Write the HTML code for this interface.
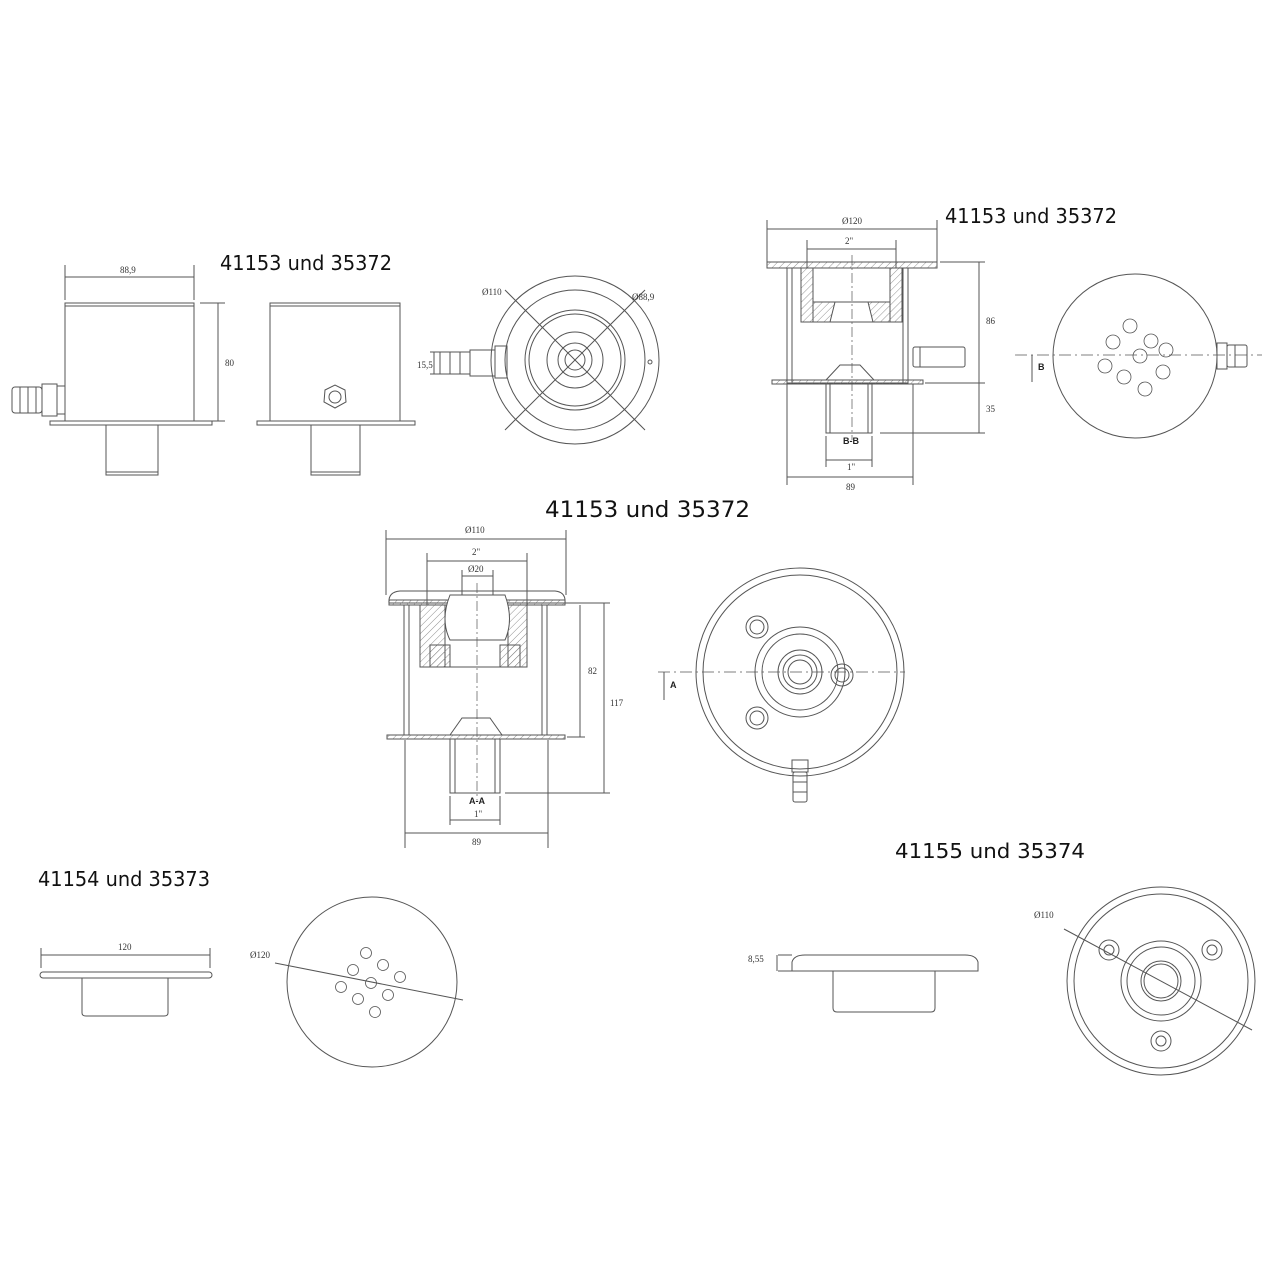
<!DOCTYPE html>
<html><head><meta charset="utf-8"><style>
html,body{margin:0;padding:0;background:#fff}
svg{display:block}
.t{font-family:"DejaVu Sans","Liberation Sans",sans-serif;font-size:20px;fill:#111}
.d{font-family:"Liberation Serif",serif;font-size:9px;fill:#333}
.b{font-family:"Liberation Sans",sans-serif;font-size:9px;font-weight:bold;fill:#222}
</style></head><body>
<svg width="1280" height="1280" viewBox="0 0 1280 1280" xmlns="http://www.w3.org/2000/svg">
<defs>
<pattern id="h" width="5" height="5" patternUnits="userSpaceOnUse" patternTransform="rotate(45)"><line x1="0" y1="0" x2="0" y2="5" stroke="#777" stroke-width="0.8"/></pattern>
</defs>
<g fill="none" stroke="#555" stroke-width="1">
<!-- View 1 -->
<rect x="65" y="303" width="129" height="118"/><line x1="65" y1="306" x2="194" y2="306"/>
<rect x="50" y="421" width="162" height="4"/>
<rect x="106" y="425" width="52" height="50"/><line x1="106" y1="472" x2="158" y2="472"/>
<rect x="12" y="387" width="30" height="26" rx="3"/><line x1="20" y1="387" x2="20" y2="413"/><line x1="28" y1="387" x2="28" y2="413"/><line x1="36" y1="387" x2="36" y2="413"/>
<rect x="42" y="384" width="15" height="32"/><rect x="57" y="386" width="8" height="28"/>
<line x1="65" y1="265" x2="65" y2="300"/><line x1="194" y1="265" x2="194" y2="300"/><line x1="65" y1="277" x2="194" y2="277"/>
<line x1="200" y1="303" x2="225" y2="303"/><line x1="200" y1="421" x2="225" y2="421"/><line x1="218" y1="303" x2="218" y2="421"/>
<!-- View 2 -->
<rect x="270" y="303" width="130" height="118"/><line x1="270" y1="306" x2="400" y2="306"/>
<rect x="257" y="421" width="158" height="4"/>
<rect x="311" y="425" width="49" height="50"/><line x1="311" y1="472" x2="360" y2="472"/>
<polygon points="325,390 335,385 345,390 346,402 335,408 324,402"/><circle cx="335" cy="397" r="6"/>
<!-- View 3 -->
<circle cx="575" cy="360" r="84"/><circle cx="575" cy="360" r="70"/><circle cx="575" cy="360" r="50"/><circle cx="575" cy="360" r="46"/><circle cx="575" cy="360" r="28"/><circle cx="575" cy="360" r="17"/><circle cx="575" cy="360" r="10"/>
<circle cx="650" cy="362" r="2"/>
<line x1="505" y1="290" x2="645" y2="430"/><line x1="645" y1="290" x2="505" y2="430"/>
<rect x="440" y="352" width="30" height="22"/><line x1="450" y1="352" x2="450" y2="374"/><line x1="460" y1="352" x2="460" y2="374"/>
<rect x="470" y="350" width="25" height="26"/><rect x="495" y="346" width="12" height="32"/>
<line x1="430" y1="352" x2="440" y2="352"/><line x1="430" y1="374" x2="440" y2="374"/><line x1="434" y1="352" x2="434" y2="374"/>
<!-- B-B section -->
<rect x="767" y="262" width="170" height="6" fill="url(#h)"/>
<rect x="787" y="268" width="121" height="115"/><line x1="792" y1="268" x2="792" y2="383"/><line x1="903" y1="268" x2="903" y2="383"/>
<rect x="801" y="268" width="12" height="54" fill="url(#h)"/><rect x="890" y="268" width="12" height="54" fill="url(#h)"/>
<polygon points="813,302 835,302 830,322 813,322" fill="url(#h)"/><polygon points="890,302 868,302 873,322 890,322" fill="url(#h)"/>
<line x1="813" y1="302" x2="890" y2="302"/><line x1="801" y1="322" x2="902" y2="322"/>
<rect x="772" y="380" width="151" height="4" fill="url(#h)"/>
<polygon points="826,380 840,365 860,365 874,380"/>
<rect x="826" y="384" width="46" height="49"/><line x1="830" y1="384" x2="830" y2="433"/><line x1="868" y1="384" x2="868" y2="433"/>
<rect x="913" y="347" width="52" height="20" rx="2"/><line x1="920" y1="347" x2="920" y2="367"/>
<line x1="852" y1="255" x2="852" y2="440" stroke-dasharray="10,3,2,3" stroke-width="0.7"/>
<line x1="767" y1="220" x2="767" y2="262"/><line x1="937" y1="220" x2="937" y2="262"/><line x1="767" y1="229" x2="937" y2="229"/>
<line x1="807" y1="240" x2="807" y2="268"/><line x1="896" y1="240" x2="896" y2="268"/><line x1="807" y1="249" x2="896" y2="249"/>
<line x1="940" y1="262" x2="985" y2="262"/><line x1="925" y1="383" x2="985" y2="383"/><line x1="880" y1="433" x2="985" y2="433"/><line x1="979" y1="262" x2="979" y2="433"/>
<line x1="826" y1="436" x2="826" y2="467"/><line x1="872" y1="436" x2="872" y2="467"/><line x1="826" y1="460" x2="872" y2="460"/>
<line x1="787" y1="384" x2="787" y2="485"/><line x1="913" y1="384" x2="913" y2="485"/><line x1="787" y1="477" x2="913" y2="477"/>
<!-- circle B -->
<circle cx="1135" cy="356" r="82"/>
<line x1="1015" y1="355" x2="1262" y2="355" stroke-dasharray="12,4,2,4" stroke-width="0.7"/>
<line x1="1032" y1="355" x2="1032" y2="382"/>
<g stroke-width="0.8"><circle cx="1130" cy="326" r="7"/><circle cx="1151" cy="341" r="7"/><circle cx="1113" cy="342" r="7"/><circle cx="1166" cy="350" r="7"/><circle cx="1140" cy="356" r="7"/><circle cx="1105" cy="366" r="7"/><circle cx="1163" cy="372" r="7"/><circle cx="1124" cy="377" r="7"/><circle cx="1145" cy="389" r="7"/></g>
<rect x="1217" y="343" width="10" height="26"/><rect x="1227" y="345" width="20" height="22" rx="2"/><line x1="1235" y1="345" x2="1235" y2="367"/>
<!-- A-A section -->
<path d="M389,603 Q388,592 400,591 L555,591 Q566,592 565,603 Z"/>
<rect x="389" y="600" width="176" height="5" fill="url(#h)"/>
<rect x="404" y="605" width="143" height="130"/><line x1="409" y1="605" x2="409" y2="735"/><line x1="542" y1="605" x2="542" y2="735"/>
<rect x="420" y="605" width="25" height="62" fill="url(#h)"/><rect x="508" y="605" width="19" height="62" fill="url(#h)"/>
<rect x="430" y="645" width="20" height="22" fill="url(#h)"/><rect x="500" y="645" width="20" height="22" fill="url(#h)"/>
<path d="M450,595 Q440,620 450,640 L505,640 Q514,620 505,595 Z" fill="#fff"/>
<line x1="420" y1="667" x2="527" y2="667"/>
<rect x="387" y="735" width="178" height="4" fill="url(#h)"/>
<polygon points="450,735 462,718 490,718 502,735"/>
<rect x="450" y="739" width="50" height="54"/><line x1="455" y1="739" x2="455" y2="793"/><line x1="495" y1="739" x2="495" y2="793"/>
<line x1="477" y1="583" x2="477" y2="800" stroke-dasharray="10,3,2,3" stroke-width="0.7"/>
<line x1="386" y1="530" x2="386" y2="595"/><line x1="566" y1="530" x2="566" y2="595"/><line x1="386" y1="539" x2="566" y2="539"/>
<line x1="427" y1="553" x2="427" y2="605"/><line x1="527" y1="553" x2="527" y2="605"/><line x1="427" y1="561" x2="527" y2="561"/>
<line x1="462" y1="570" x2="462" y2="595"/><line x1="493" y1="570" x2="493" y2="595"/><line x1="462" y1="576" x2="493" y2="576"/>
<line x1="565" y1="603" x2="610" y2="603"/><line x1="567" y1="737" x2="585" y2="737"/><line x1="505" y1="793" x2="610" y2="793"/>
<line x1="580" y1="605" x2="580" y2="737"/><line x1="604" y1="603" x2="604" y2="793"/>
<line x1="450" y1="796" x2="450" y2="825"/><line x1="500" y1="796" x2="500" y2="825"/><line x1="450" y1="820" x2="500" y2="820"/>
<line x1="405" y1="740" x2="405" y2="848"/><line x1="548" y1="740" x2="548" y2="848"/><line x1="405" y1="833" x2="548" y2="833"/>
<!-- circle A -->
<circle cx="800" cy="672" r="104"/><circle cx="800" cy="672" r="97"/>
<circle cx="800" cy="672" r="45"/><circle cx="800" cy="672" r="38"/><circle cx="800" cy="672" r="22"/><circle cx="800" cy="672" r="17"/><circle cx="800" cy="672" r="12"/>
<line x1="658" y1="672" x2="905" y2="672" stroke-dasharray="12,4,2,4" stroke-width="0.7"/>
<line x1="664" y1="672" x2="664" y2="700"/>
<circle cx="757" cy="627" r="11"/><circle cx="757" cy="627" r="7"/>
<circle cx="842" cy="675" r="11"/><circle cx="842" cy="675" r="7"/>
<circle cx="757" cy="718" r="11"/><circle cx="757" cy="718" r="7"/>
<rect x="792" y="760" width="16" height="12"/><rect x="793" y="772" width="14" height="30" rx="2"/><line x1="793" y1="782" x2="807" y2="782"/><line x1="793" y1="792" x2="807" y2="792"/>
<!-- 41154 -->
<rect x="40" y="972" width="172" height="6" rx="3"/>
<path d="M82,978 L82,1013 Q82,1016 86,1016 L164,1016 Q168,1016 168,1013 L168,978"/>
<line x1="41" y1="948" x2="41" y2="968"/><line x1="210" y1="948" x2="210" y2="968"/><line x1="41" y1="955" x2="210" y2="955"/>
<circle cx="372" cy="982" r="85"/>
<line x1="275" y1="963" x2="463" y2="1000"/>
<g stroke-width="0.8"><circle cx="366" cy="953" r="5.5"/><circle cx="353" cy="970" r="5.5"/><circle cx="383" cy="965" r="5.5"/><circle cx="400" cy="977" r="5.5"/><circle cx="371" cy="983" r="5.5"/><circle cx="341" cy="987" r="5.5"/><circle cx="388" cy="995" r="5.5"/><circle cx="358" cy="999" r="5.5"/><circle cx="375" cy="1012" r="5.5"/></g>
<!-- 41155 -->
<path d="M792,971 L792,962 Q794,955 805,955 L965,955 Q976,955 978,962 L978,971 Z"/>
<path d="M833,971 L833,1008 Q833,1012 837,1012 L931,1012 Q935,1012 935,1008 L935,971"/>
<line x1="778" y1="955" x2="792" y2="955"/><line x1="778" y1="971" x2="792" y2="971"/><line x1="777" y1="955" x2="777" y2="971"/>
<circle cx="1161" cy="981" r="94"/><circle cx="1161" cy="981" r="87"/>
<circle cx="1161" cy="981" r="40"/><circle cx="1161" cy="981" r="34"/><circle cx="1161" cy="981" r="20"/><circle cx="1161" cy="981" r="17"/>
<circle cx="1109" cy="950" r="10"/><circle cx="1109" cy="950" r="5"/>
<circle cx="1212" cy="950" r="10"/><circle cx="1212" cy="950" r="5"/>
<circle cx="1161" cy="1041" r="10"/><circle cx="1161" cy="1041" r="5"/>
<line x1="1064" y1="929" x2="1252" y2="1030"/>
</g>
<text class="t" x="220" y="270" textLength="172" lengthAdjust="spacingAndGlyphs">41153 und 35372</text>
<text class="t" x="945" y="223" textLength="172" lengthAdjust="spacingAndGlyphs">41153 und 35372</text>
<text class="t" x="545" y="517" style="font-size:22px" textLength="205" lengthAdjust="spacingAndGlyphs">41153 und 35372</text>
<text class="t" x="38" y="886" textLength="172" lengthAdjust="spacingAndGlyphs">41154 und 35373</text>
<text class="t" x="895" y="858" textLength="190" lengthAdjust="spacingAndGlyphs">41155 und 35374</text>
<text class="d" x="120" y="273">88,9</text>
<text class="d" x="225" y="366">80</text>
<text class="d" x="482" y="295">Ø110</text>
<text class="d" x="632" y="300">Ø88,9</text>
<text class="d" x="417" y="368">15,5</text>
<text class="d" x="842" y="224">Ø120</text>
<text class="d" x="845" y="244">2"</text>
<text class="d" x="986" y="324">86</text>
<text class="d" x="986" y="412">35</text>
<text class="b" x="843" y="444">B-B</text>
<text class="d" x="847" y="470">1"</text>
<text class="d" x="846" y="490">89</text>
<text class="b" x="1038" y="370">B</text>
<text class="d" x="465" y="533">Ø110</text>
<text class="d" x="472" y="555">2"</text>
<text class="d" x="468" y="572">Ø20</text>
<text class="d" x="588" y="674">82</text>
<text class="d" x="610" y="706">117</text>
<text class="b" x="469" y="804">A-A</text>
<text class="d" x="474" y="817">1"</text>
<text class="d" x="472" y="845">89</text>
<text class="b" x="670" y="688">A</text>
<text class="d" x="118" y="950">120</text>
<text class="d" x="250" y="958">Ø120</text>
<text class="d" x="748" y="962">8,55</text>
<text class="d" x="1034" y="918">Ø110</text>
</svg>
</body></html>
